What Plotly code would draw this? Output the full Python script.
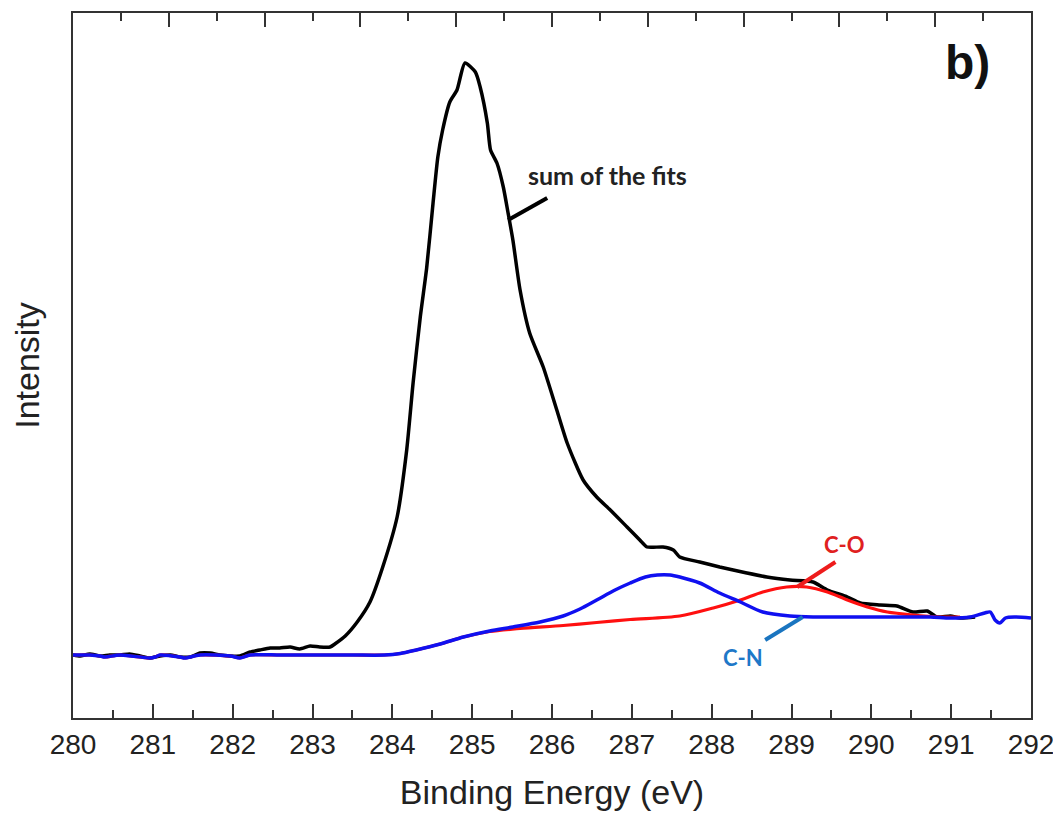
import plotly.graph_objects as go

# ---------------- data (binding energy in eV, intensity in arb. units) ----------------
sum_x = [280.00, 280.09, 280.21, 280.34, 280.46, 280.59, 280.71, 280.84, 280.96, 281.09,
         281.22, 281.34, 281.47, 281.59, 281.72, 281.84, 281.97, 282.09, 282.22, 282.34,
         282.47, 282.59, 282.72, 282.84, 282.97, 283.09, 283.22, 283.28, 283.41, 283.56,
         283.72, 283.88, 284.06, 284.18, 284.26, 284.35, 284.43, 284.51, 284.57, 284.63,
         284.72, 284.81, 284.91, 285.04, 285.10, 285.19, 285.23, 285.31, 285.39, 285.45,
         285.51, 285.60, 285.72, 285.89, 286.06, 286.19, 286.39, 286.56, 286.73, 286.94,
         287.10, 287.19, 287.39, 287.52, 287.60, 287.85, 288.10, 288.44, 288.69, 288.98,
         289.27, 289.45, 289.70, 289.86, 290.11, 290.32, 290.52, 290.70, 290.82, 290.99,
         291.11, 291.30]
sum_y = [630, 620, 640, 620, 630, 630, 640, 620, 600, 620,
         630, 610, 610, 650, 650, 630, 620, 620, 660, 680,
         700, 700, 710, 690, 720, 710, 710, 740, 820, 960,
         1160, 1510, 2010, 2680, 3350, 4010, 4500, 5150, 5610, 5880,
         6160, 6280, 6550, 6460, 6310, 5950, 5680, 5550, 5310, 5050,
         4780, 4280, 3850, 3510, 3080, 2750, 2380, 2210, 2080, 1910,
         1780, 1710, 1710, 1680, 1610, 1560, 1510, 1450, 1410, 1380,
         1360, 1280, 1210, 1150, 1130, 1120, 1060, 1070, 1010, 1020,
         1000, 1010]

co_x = [280.00, 280.21, 280.34, 280.40, 280.59, 280.96, 281.03, 281.09, 281.34, 281.40,
        281.59, 281.97, 282.09, 282.22, 282.60, 283.00, 283.50, 283.90, 284.10, 284.30,
        284.60, 284.89, 285.22, 285.60, 286.14, 286.56, 286.98, 287.60, 288.02, 288.36,
        288.64, 288.94, 289.19, 289.45, 289.70, 289.95, 290.20, 290.52, 290.86, 291.11]
co_y = [630, 630, 620, 610, 630, 600, 610, 630, 610, 600,
        630, 620, 600, 630, 630, 630, 630, 630, 645, 680,
        740, 810, 865, 895, 925, 955, 985, 1020, 1100, 1180,
        1260, 1310, 1310, 1260, 1180, 1110, 1060, 1030, 1010, 1010]

cn_x = [280.00, 280.21, 280.34, 280.40, 280.59, 280.96, 281.03, 281.09, 281.34, 281.40,
        281.59, 281.97, 282.09, 282.22, 282.60, 283.00, 283.50, 283.90, 284.10, 284.30,
        284.60, 284.89, 285.22, 285.51, 285.85, 286.14, 286.35, 286.56, 286.79, 286.98,
        287.17, 287.32, 287.48, 287.60, 287.85, 288.10, 288.36, 288.64, 288.98, 289.27,
        289.73, 290.36, 290.74, 290.99, 291.24, 291.42, 291.49, 291.55, 291.61, 291.68,
        291.80, 292.00]
cn_y = [630, 630, 620, 610, 630, 600, 610, 630, 610, 600,
        630, 620, 600, 630, 630, 630, 630, 630, 645, 680,
        740, 810, 870, 910, 960, 1020, 1090, 1180, 1280, 1350,
        1410, 1430, 1430, 1410, 1350, 1250, 1160, 1060, 1020, 1010,
        1010, 1010, 1010, 1000, 1010, 1050, 1060, 980, 950, 1000,
        1010, 1000]

x_ticks = [280, 281, 282, 283, 284, 285, 286, 287, 288, 289, 290, 291, 292]

fig = go.Figure()
fig.add_trace(go.Scatter(x=sum_x, y=sum_y, mode="lines", name="sum of the fits",
                         line=dict(color="#000000", width=3.5, shape="spline", smoothing=0.6),
                         showlegend=False))
fig.add_trace(go.Scatter(x=co_x, y=co_y, mode="lines", name="C-O",
                         line=dict(color="#ff1010", width=3.2, shape="spline", smoothing=0.8),
                         showlegend=False))
fig.add_trace(go.Scatter(x=cn_x, y=cn_y, mode="lines", name="C-N",
                         line=dict(color="#1010f0", width=3.5, shape="spline", smoothing=0.8),
                         showlegend=False))
# invisible trace to activate the top tick axis
fig.add_trace(go.Scatter(x=[0, 10], y=[0, 0], xaxis="x2", mode="lines",
                         line=dict(width=0), hoverinfo="skip", showlegend=False, opacity=0))

axis_col = "#333333"
fig.update_layout(
    width=1053, height=805,
    margin=dict(l=65, r=30, t=5, b=95),
    plot_bgcolor="white", paper_bgcolor="white",
    font=dict(family="Liberation Sans, Arial", color="#222222"),
    xaxis=dict(range=[280, 292], tickvals=x_ticks, ticks="inside", ticklen=14, tickwidth=2,
               tickcolor=axis_col, showline=True, linecolor=axis_col, linewidth=2, mirror=True,
               showgrid=False, zeroline=False, automargin=False, ticklabeloverflow="allow",
               tickfont=dict(size=28, color="#222222"),
               minor=dict(dtick=0.5, ticks="inside", ticklen=8, tickwidth=2, tickcolor=axis_col),
               title=dict(text="Binding Energy (eV)", font=dict(size=34, color="#222222"),
                          standoff=22)),
    xaxis2=dict(range=[0, 10], overlaying="x", side="top", dtick=1, ticks="inside",
                ticklen=14, tickwidth=2, tickcolor=axis_col, showticklabels=False,
                showline=False, showgrid=False, zeroline=False, automargin=False,
                minor=dict(dtick=0.5, ticks="inside", ticklen=8, tickwidth=2, tickcolor=axis_col)),
    yaxis=dict(range=[0, 7050], showticklabels=False, ticks="", showline=True,
               linecolor=axis_col, linewidth=2, mirror=True, showgrid=False, zeroline=False,
               automargin=False,
               title=dict(text="Intensity", font=dict(size=34, color="#222222"), standoff=23)),
)

# pointer lines
fig.add_shape(type="line", x0=285.45, y0=4980, x1=285.94, y1=5200,
              line=dict(color="#000000", width=4))
fig.add_shape(type="line", x0=289.07, y0=1310, x1=289.55, y1=1560,
              line=dict(color="#ee1c1c", width=4))
fig.add_shape(type="line", x0=289.14, y0=1010, x1=288.67, y1=780,
              line=dict(color="#1a75c0", width=4))

fig.add_annotation(x=286.70, y=5430, text="sum of the fits", showarrow=False,
                   font=dict(family="Lato", size=25, color="#222222", weight="bold"))
fig.add_annotation(x=289.66, y=1740, text="C-O", showarrow=False,
                   font=dict(family="Lato", size=22, color="#e02020", weight="bold"))
fig.add_annotation(x=288.39, y=610, text="C-N", showarrow=False,
                   font=dict(family="Lato", size=22, color="#1e78c8", weight="bold"))
fig.add_annotation(x=291.20, y=6560, text="<b>b)</b>", showarrow=False,
                   font=dict(family="Liberation Sans, Arial", size=48, color="#111111"))

fig.write_html("out.html")
